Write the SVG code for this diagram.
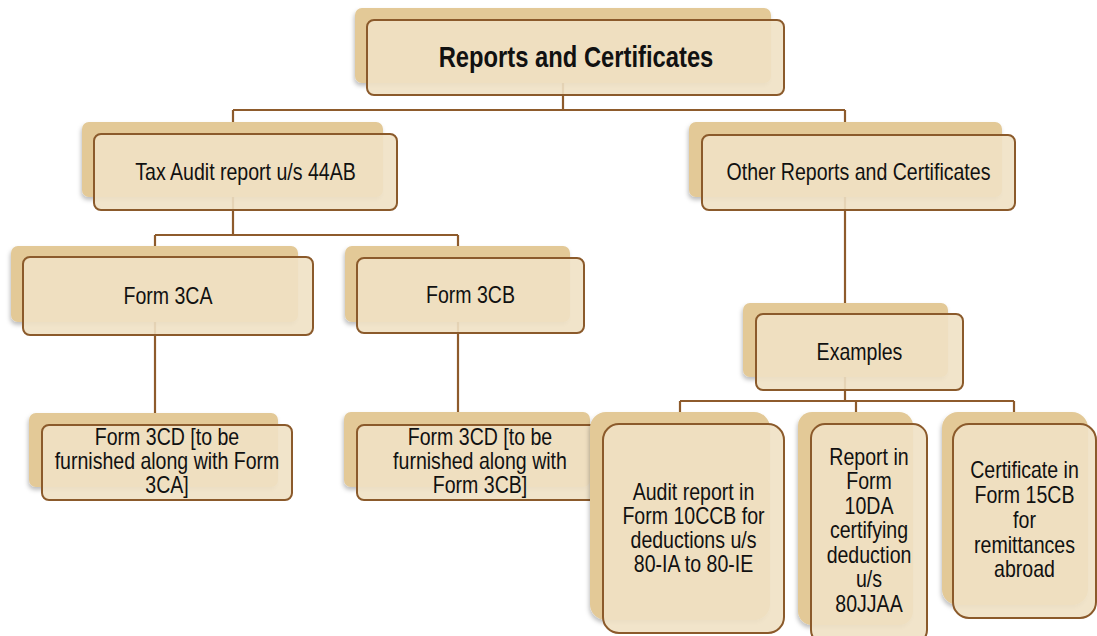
<svg xmlns="http://www.w3.org/2000/svg" width="1097" height="636" viewBox="0 0 1097 636">
<defs>
<filter id="sh" x="-10%" y="-10%" width="120%" height="130%">
<feDropShadow dx="-1" dy="3" stdDeviation="2" flood-color="#000" flood-opacity="0.25"/>
</filter>
</defs>
<style>
.back{fill:#E3C997;filter:url(#sh)}
.front{fill:#EFE1C4;fill-opacity:0.9;stroke:#8B5A2B;stroke-width:2}
.conn{fill:none;stroke:#8E5B2C;stroke-width:2.2}
text{font-family:"Liberation Sans",Arial,sans-serif;font-size:23px;fill:#111;text-anchor:middle}
.title{font-size:29px;font-weight:bold}
</style>
<rect width="1097" height="636" fill="#fff"/>
<g id="connectors" class="conn">
<path d="M563 83V110M233 110H845M233 110V122M845 110V122"/>
<path d="M233 197V235M155 235H458M155 235V246M458 235V246"/>
<path d="M155 322V413"/>
<path d="M458 322V412"/>
<path d="M845 197V303"/>
<path d="M845 377V401M680 401H1014M680 401V412M856 401V412M1014 401V412"/>
</g>
<g id="n-root">
<rect class="back" x="355" y="8" width="416" height="75" rx="7"/>
<rect class="front" x="367" y="20" width="417" height="75" rx="7"/>
<text class="title" transform="translate(576 67) scale(0.82 1)">Reports and Certificates</text>
</g>
<g id="n-taxaudit">
<rect class="back" x="82" y="122" width="301" height="75" rx="7"/>
<rect class="front" x="94" y="134" width="303" height="76" rx="7"/>
<text transform="translate(245.5 180) scale(0.85 1)">Tax Audit report u/s 44AB</text>
</g>
<g id="n-other">
<rect class="back" x="689" y="122" width="313" height="75" rx="7"/>
<rect class="front" x="702" y="135" width="313" height="75" rx="7"/>
<text transform="translate(858.5 180) scale(0.85 1)">Other Reports and Certificates</text>
</g>
<g id="n-3ca">
<rect class="back" x="11" y="246" width="287" height="76" rx="7"/>
<rect class="front" x="23" y="257" width="290" height="78" rx="7"/>
<text transform="translate(168 304) scale(0.85 1)">Form 3CA</text>
</g>
<g id="n-3cb">
<rect class="back" x="345" y="246" width="225" height="76" rx="7"/>
<rect class="front" x="357" y="258" width="227" height="75" rx="7"/>
<text transform="translate(470.5 303) scale(0.85 1)">Form 3CB</text>
</g>
<g id="n-3cd-a">
<rect class="back" x="29" y="413" width="249" height="74" rx="7"/>
<rect class="front" x="42" y="425" width="250" height="75" rx="7"/>
<text transform="translate(167 445) scale(0.85 1)">Form 3CD [to be</text>
<text transform="translate(167 469) scale(0.85 1)">furnished along with Form</text>
<text transform="translate(167 493) scale(0.85 1)">3CA]</text>
</g>
<g id="n-3cd-b">
<rect class="back" x="344" y="412" width="246" height="75" rx="7"/>
<rect class="front" x="357" y="425" width="246" height="75" rx="7"/>
<text transform="translate(480 445) scale(0.85 1)">Form 3CD [to be</text>
<text transform="translate(480 469) scale(0.85 1)">furnished along with</text>
<text transform="translate(480 493) scale(0.85 1)">Form 3CB]</text>
</g>
<g id="n-examples">
<rect class="back" x="743" y="303" width="205" height="74" rx="7"/>
<rect class="front" x="756" y="314" width="207" height="76" rx="7"/>
<text transform="translate(859.5 360) scale(0.85 1)">Examples</text>
</g>
<g id="n-10ccb">
<rect class="back" x="590" y="412" width="180" height="208" rx="16"/>
<rect class="front" x="603" y="424" width="181" height="209" rx="16"/>
<text transform="translate(693.5 500) scale(0.85 1)">Audit report in</text>
<text transform="translate(693.5 524) scale(0.85 1)">Form 10CCB for</text>
<text transform="translate(693.5 548) scale(0.85 1)">deductions u/s</text>
<text transform="translate(693.5 572) scale(0.85 1)">80-IA to 80-IE</text>
</g>
<g id="n-10da">
<rect class="back" x="798" y="412" width="115" height="213" rx="14"/>
<rect class="front" x="811" y="424" width="116" height="220" rx="14"/>
<text transform="translate(869 465) scale(0.85 1)">Report in</text>
<text transform="translate(869 489) scale(0.85 1)">Form</text>
<text transform="translate(869 514) scale(0.85 1)">10DA</text>
<text transform="translate(869 538) scale(0.85 1)">certifying</text>
<text transform="translate(869 563) scale(0.85 1)">deduction</text>
<text transform="translate(869 587) scale(0.85 1)">u/s</text>
<text transform="translate(869 612) scale(0.85 1)">80JJAA</text>
</g>
<g id="n-15cb">
<rect class="back" x="942" y="412" width="146" height="193" rx="16"/>
<rect class="front" x="953" y="424" width="143" height="194" rx="16"/>
<text transform="translate(1024.5 478) scale(0.85 1)">Certificate in</text>
<text transform="translate(1024.5 503) scale(0.85 1)">Form 15CB</text>
<text transform="translate(1024.5 528) scale(0.85 1)">for</text>
<text transform="translate(1024.5 553) scale(0.85 1)">remittances</text>
<text transform="translate(1024.5 577) scale(0.85 1)">abroad</text>
</g>
</svg>
